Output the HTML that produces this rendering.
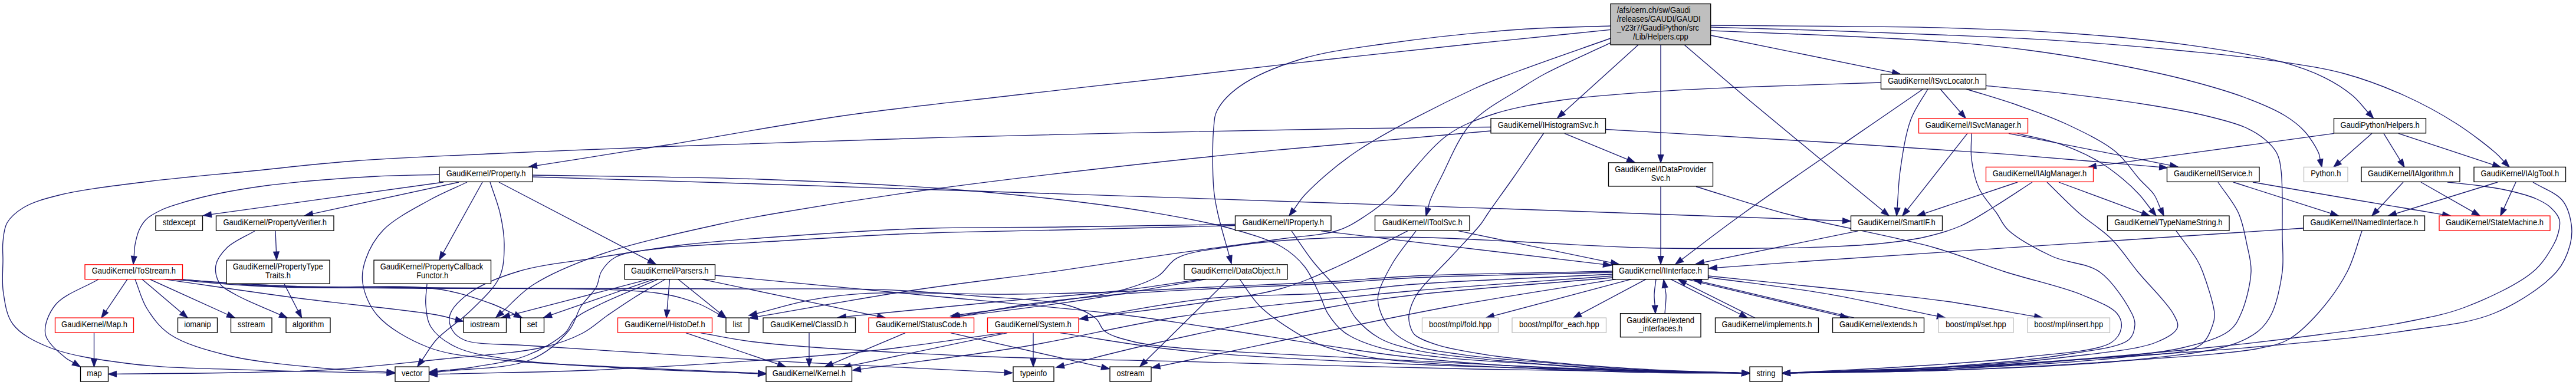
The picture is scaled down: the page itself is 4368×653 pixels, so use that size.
<!DOCTYPE html>
<html lang="en"><head><meta charset="utf-8"><title>Helpers.cpp include graph</title>
<style>html,body{margin:0;padding:0;background:#fff}svg{display:block}</style></head>
<body>
<svg width="4368" height="653" viewBox="0 0 4368 653">
<rect width="4368" height="653" fill="white"/>
<g fill="none" stroke="#191970" stroke-width="1.33">
<path d="M2731.0,50.4 C2654.0,58.3 2577.8,65.8 2500.0,74.0 C2420.5,82.3 2339.6,91.0 2259.0,100.0 C2177.9,109.0 2099.9,118.3 2015.0,128.0 C1922.3,138.6 1821.1,149.7 1724.0,161.0 C1626.7,172.3 1530.0,182.0 1432.0,196.0 C1332.0,210.3 1222.7,231.0 1130.0,246.0 C1050.9,258.8 983.4,269.3 910.1,280.9"/><polygon fill="#191970" points="909.4,276.3 897.0,283.0 910.9,285.5"/>
<path d="M2731.0,44.0 C2679.3,46.0 2632.4,45.9 2576.0,50.0 C2507.7,54.9 2416.6,64.4 2350.0,74.0 C2296.7,81.7 2250.3,86.7 2207.0,100.0 C2168.5,111.8 2127.1,128.8 2102.0,146.6 C2084.6,159.0 2070.9,173.6 2064.0,187.0 C2058.9,196.9 2059.3,203.6 2058.0,216.5 C2055.6,240.4 2055.8,293.2 2058.0,320.0 C2059.4,337.2 2061.6,346.2 2065.0,362.0 C2069.6,382.9 2078.0,410.1 2084.5,434.2"/><polygon fill="#191970" points="2080.0,435.4 2088.0,447.0 2089.0,432.9"/>
<path d="M2731.0,65.0 C2679.3,83.3 2618.3,104.1 2576.0,120.0 C2546.3,131.2 2531.3,135.8 2500.7,150.0 C2449.4,173.8 2351.7,222.1 2300.0,257.0 C2263.4,281.7 2230.9,311.1 2213.0,330.0 C2203.6,340.0 2200.3,346.9 2194.0,355.4"/><polygon fill="#191970" points="2190.2,352.6 2186.0,366.0 2197.7,358.2"/>
<path d="M2731.0,72.7 C2694.0,90.1 2647.8,110.1 2620.0,125.0 C2602.6,134.3 2594.6,139.6 2578.6,150.0 C2555.4,165.1 2517.4,183.7 2495.0,208.5 C2472.3,233.6 2456.6,275.6 2444.0,300.0 C2435.8,315.9 2428.6,330.2 2425.0,340.0 C2423.0,345.5 2422.6,348.8 2421.5,353.2"/><polygon fill="#191970" points="2416.9,351.9 2418.0,366.0 2426.0,354.4"/>
<path d="M2778.0,76.0 L2650.9,191.1"/><polygon fill="#191970" points="2647.7,187.6 2641.0,200.0 2654.0,194.5"/>
<path d="M2816.0,76.0 L2816.0,262.7"/><polygon fill="#191970" points="2811.3,262.7 2816.0,276.0 2820.7,262.7"/>
<path d="M2856.0,76.0 C2892.7,107.3 2922.6,133.5 2966.0,170.0 C3027.9,222.0 3117.2,295.0 3192.8,357.5"/><polygon fill="#191970" points="3189.8,361.1 3203.0,366.0 3195.7,353.9"/>
<path d="M2901.0,60.0 L3209.0,122.8"/><polygon fill="#191970" points="3208.0,127.4 3222.0,125.5 3209.9,118.3"/>
<path d="M2901.0,46.0 C2967.3,48.0 3033.6,49.8 3100.0,52.0 C3166.6,54.3 3233.1,56.6 3300.0,59.5 C3367.3,62.4 3435.2,65.1 3502.7,69.6 C3570.3,74.1 3641.6,80.3 3705.4,86.5 C3762.5,92.1 3819.1,97.4 3867.6,104.7 C3907.4,110.7 3940.6,115.4 3975.7,125.0 C4010.4,134.5 4044.9,147.6 4077.0,162.0 C4107.9,175.9 4138.1,192.4 4164.9,209.5 C4189.5,225.2 4218.8,248.0 4232.4,260.0 C4238.9,265.7 4241.3,269.3 4245.8,273.9"/><polygon fill="#191970" points="4242.4,277.2 4255.0,283.5 4249.1,270.7"/>
<path d="M2901.0,43.0 C2967.3,43.5 3033.6,43.8 3100.0,44.5 C3166.6,45.2 3233.1,45.4 3300.0,47.3 C3367.4,49.2 3435.2,51.3 3502.7,56.0 C3570.3,60.7 3641.8,66.9 3705.4,75.7 C3762.6,83.6 3824.3,93.0 3867.6,104.7 C3897.6,112.8 3920.5,121.2 3942.0,131.8 C3960.0,140.7 3976.1,151.2 3989.0,162.0 C3999.8,171.0 4006.7,181.1 4015.5,190.7"/><polygon fill="#191970" points="4012.1,193.9 4024.5,200.5 4018.9,187.6"/>
<path d="M2901.0,52.0 C2967.3,54.7 3033.6,56.8 3100.0,60.0 C3166.6,63.2 3239.9,66.3 3300.0,71.0 C3349.5,74.8 3390.1,78.7 3435.0,84.5 C3480.1,90.3 3525.1,97.6 3570.0,106.0 C3615.2,114.4 3663.7,124.3 3705.4,135.0 C3741.8,144.4 3776.8,154.3 3806.8,165.5 C3831.9,174.9 3856.2,184.9 3874.3,196.0 C3888.1,204.5 3898.4,212.4 3908.0,223.0 C3917.6,233.7 3928.1,251.2 3931.8,260.0 C3933.6,264.4 3933.4,267.0 3934.1,270.5"/><polygon fill="#191970" points="3929.6,271.5 3937.0,283.5 3938.7,269.5"/>
<path d="M3261.0,151.0 C3159.3,221.3 3030.7,308.3 2956.0,362.0 C2911.7,393.8 2886.4,414.0 2851.7,440.0"/><polygon fill="#191970" points="2848.9,436.3 2841.0,448.0 2854.4,443.8"/>
<path d="M3269.0,151.0 C3259.3,168.3 3247.5,182.8 3240.0,203.0 C3230.8,227.7 3225.8,263.3 3222.0,290.0 C3218.8,312.5 3218.7,331.8 3217.0,352.7"/><polygon fill="#191970" points="3212.4,352.4 3216.0,366.0 3221.7,353.1"/>
<path d="M3290.0,151.0 L3324.3,190.5"/><polygon fill="#191970" points="3320.8,193.5 3333.0,200.5 3327.8,187.4"/>
<path d="M3334.0,151.0 C3362.7,160.0 3391.7,168.1 3420.0,178.0 C3448.1,187.8 3475.7,197.2 3503.0,210.0 C3531.4,223.3 3565.2,239.3 3587.0,257.0 C3604.5,271.2 3615.5,290.3 3627.5,303.5 C3636.7,313.7 3646.3,320.9 3652.5,330.0 C3657.7,337.8 3659.8,345.9 3663.5,353.9"/><polygon fill="#191970" points="3659.2,355.9 3669.0,366.0 3667.7,352.0"/>
<path d="M3367.6,145.3 C3412.6,149.8 3457.7,153.5 3502.7,158.8 C3547.8,164.1 3596.1,170.3 3637.8,177.0 C3674.0,182.8 3708.8,188.7 3739.0,196.0 C3764.0,202.0 3788.5,207.9 3806.8,216.0 C3820.4,222.0 3831.2,228.6 3840.5,236.5 C3848.8,243.5 3856.2,251.1 3860.8,260.0 C3865.4,268.9 3866.3,276.7 3868.0,290.0 C3871.2,315.0 3869.7,368.7 3870.0,400.0 C3870.2,423.3 3872.6,440.1 3870.0,461.0 C3867.1,483.9 3860.6,514.2 3852.0,532.0 C3845.9,544.6 3840.1,552.6 3830.0,561.0 C3817.5,571.4 3802.6,578.9 3780.0,586.0 C3739.3,598.8 3667.8,605.3 3600.0,612.0 C3512.9,620.6 3396.9,624.5 3300.0,628.0 C3209.0,631.2 3123.5,631.2 3035.3,632.8"/><polygon fill="#191970" points="3035.2,628.1 3022.0,633.0 3035.4,637.4"/>
<path d="M2722.5,219.5 C2840.3,226.3 2960.7,232.9 3076.0,240.0 C3186.4,246.8 3297.8,253.7 3400.0,261.4 C3491.9,268.3 3574.5,276.1 3661.7,283.4"/><polygon fill="#191970" points="3661.4,288.0 3675.0,284.5 3662.1,278.7"/>
<path d="M2653.0,226.3 L2759.7,270.4"/><polygon fill="#191970" points="2757.9,274.7 2772.0,275.5 2761.5,266.1"/>
<path d="M3336.0,226.3 L3234.2,355.6"/><polygon fill="#191970" points="3230.6,352.7 3226.0,366.0 3237.9,358.4"/>
<path d="M3343.0,226.3 C3343.0,240.9 3341.1,255.1 3343.0,270.0 C3345.1,286.2 3348.8,304.7 3356.0,320.0 C3363.2,335.3 3377.2,349.4 3386.0,362.0 C3393.1,372.2 3395.1,380.7 3405.0,390.0 C3420.9,405.0 3453.9,423.1 3480.0,435.0 C3505.6,446.7 3537.7,445.3 3560.0,461.0 C3583.0,477.2 3606.7,515.2 3615.0,532.0 C3618.9,539.8 3620.4,544.3 3620.0,551.0 C3619.5,558.8 3618.0,569.1 3610.0,576.0 C3593.9,589.9 3546.1,594.0 3505.0,601.0 C3448.3,610.6 3372.8,616.8 3300.0,622.0 C3217.5,627.9 3123.5,629.0 3035.3,632.5"/><polygon fill="#191970" points="3035.1,627.8 3022.0,633.0 3035.5,637.1"/>
<path d="M3406.0,226.3 L3680.0,280.4"/><polygon fill="#191970" points="3679.0,285.0 3693.0,283.0 3680.9,275.8"/>
<path d="M3421.0,226.3 C3445.2,232.3 3470.6,236.4 3493.5,244.3 C3515.5,251.9 3537.5,261.7 3556.0,272.3 C3572.3,281.7 3586.9,293.1 3599.5,303.5 C3610.2,312.3 3619.2,320.9 3627.5,330.0 C3635.1,338.3 3641.0,347.0 3647.7,355.6"/><polygon fill="#191970" points="3644.1,358.5 3656.0,366.0 3651.4,352.7"/>
<path d="M3957.5,226.3 L3554.2,281.7"/><polygon fill="#191970" points="3553.5,277.1 3541.0,283.5 3554.8,286.3"/>
<path d="M4022.0,226.3 L3967.0,274.7"/><polygon fill="#191970" points="3963.9,271.2 3957.0,283.5 3970.1,278.2"/>
<path d="M4042.0,226.3 L4070.1,272.2"/><polygon fill="#191970" points="4066.1,274.6 4077.0,283.5 4074.0,269.7"/>
<path d="M4067.0,226.3 L4227.4,279.3"/><polygon fill="#191970" points="4225.9,283.8 4240.0,283.5 4228.8,274.9"/>
<path d="M2816.0,316.5 L2816.0,434.7"/><polygon fill="#191970" points="2811.3,434.7 2816.0,448.0 2820.7,434.7"/>
<path d="M2876.0,316.5 C2926.0,331.7 2969.2,346.9 3026.0,362.0 C3099.3,381.5 3211.4,400.5 3280.0,420.0 C3327.8,433.6 3359.1,447.9 3400.0,461.0 C3442.3,474.6 3495.5,485.8 3530.0,500.0 C3554.4,510.1 3580.1,519.8 3590.0,532.0 C3596.0,539.4 3598.2,548.2 3597.0,556.0 C3595.6,564.6 3590.8,574.1 3580.0,581.0 C3555.8,596.5 3483.7,599.4 3430.0,606.0 C3368.3,613.6 3296.3,617.6 3230.0,622.0 C3164.7,626.3 3100.2,628.9 3035.3,632.3"/><polygon fill="#191970" points="3035.0,627.6 3022.0,633.0 3035.5,637.0"/>
<path d="M3421.0,309.0 L3263.6,361.8"/><polygon fill="#191970" points="3262.1,357.3 3251.0,366.0 3265.1,366.2"/>
<path d="M3471.0,309.0 C3489.3,326.7 3507.4,345.7 3526.0,362.0 C3543.7,377.5 3563.6,388.7 3580.0,405.0 C3596.7,421.6 3608.8,441.3 3625.0,461.0 C3643.4,483.4 3675.2,513.8 3685.0,532.0 C3690.1,541.5 3694.6,548.8 3692.0,556.0 C3688.5,565.7 3672.6,574.0 3655.0,581.0 C3621.9,594.1 3555.1,599.2 3500.0,606.0 C3437.7,613.7 3371.4,618.7 3300.0,623.0 C3218.0,628.0 3123.5,629.3 3035.3,632.5"/><polygon fill="#191970" points="3035.1,627.9 3022.0,633.0 3035.5,637.2"/>
<path d="M3491.0,309.0 L3632.5,361.4"/><polygon fill="#191970" points="3630.9,365.8 3645.0,366.0 3634.1,357.0"/>
<path d="M3761.0,309.0 C3772.7,326.7 3787.8,343.6 3796.0,362.0 C3803.6,379.1 3806.4,397.9 3810.0,415.0 C3813.3,430.8 3817.7,444.1 3817.0,461.0 C3816.1,482.2 3808.0,514.1 3800.0,532.0 C3794.5,544.4 3790.8,552.7 3780.0,561.0 C3763.3,573.9 3733.2,582.3 3700.0,590.0 C3648.9,601.9 3566.7,606.0 3500.0,612.0 C3433.4,618.0 3371.4,622.6 3300.0,626.0 C3218.0,629.9 3123.5,630.4 3035.3,632.7"/><polygon fill="#191970" points="3035.2,628.0 3022.0,633.0 3035.4,637.3"/>
<path d="M3787.0,309.0 L3952.3,361.9"/><polygon fill="#191970" points="3950.9,366.4 3965.0,366.0 3953.8,357.5"/>
<path d="M3820.0,309.0 C3880.0,319.3 3943.6,330.4 4000.0,340.0 C4050.1,348.5 4094.6,355.9 4141.9,363.8"/><polygon fill="#191970" points="4141.1,368.4 4155.0,366.0 4142.7,359.2"/>
<path d="M4075.0,309.0 L4031.1,356.3"/><polygon fill="#191970" points="4027.6,353.1 4022.0,366.0 4034.5,359.4"/>
<path d="M4105.0,309.0 L4193.4,359.4"/><polygon fill="#191970" points="4191.1,363.5 4205.0,366.0 4195.8,355.4"/>
<path d="M4150.0,309.0 C4168.3,311.0 4187.0,312.5 4205.0,315.0 C4222.6,317.5 4240.6,320.1 4257.0,324.0 C4272.1,327.6 4287.9,331.6 4300.0,337.0 C4309.8,341.3 4318.2,345.7 4325.0,352.0 C4331.4,357.9 4338.0,365.5 4340.0,373.0 C4341.9,379.9 4339.7,388.0 4338.0,395.0 C4336.3,402.0 4334.4,407.3 4330.0,415.0 C4322.9,427.6 4312.2,446.5 4295.0,461.0 C4269.2,482.8 4217.8,506.6 4180.0,521.0 C4146.3,533.8 4116.9,538.7 4080.0,546.0 C4035.2,554.9 3983.6,561.0 3930.0,568.0 C3868.2,576.1 3805.0,583.6 3730.0,591.0 C3633.8,600.5 3512.8,611.1 3400.0,618.0 C3281.5,625.2 3156.9,627.6 3035.3,632.5"/><polygon fill="#191970" points="3035.1,627.8 3022.0,633.0 3035.5,637.1"/>
<path d="M4235.0,309.0 L4062.7,362.1"/><polygon fill="#191970" points="4061.3,357.6 4050.0,366.0 4064.1,366.5"/>
<path d="M4266.0,309.0 L4245.5,353.9"/><polygon fill="#191970" points="4241.3,352.0 4240.0,366.0 4249.8,355.8"/>
<path d="M4295.0,309.0 C4311.7,319.3 4334.2,326.8 4345.0,340.0 C4354.2,351.3 4358.0,366.9 4360.0,380.0 C4361.8,391.9 4361.2,402.9 4358.0,415.0 C4354.1,429.7 4348.4,445.8 4335.0,461.0 C4314.0,484.8 4270.0,514.4 4230.0,531.0 C4186.0,549.2 4136.6,552.3 4080.0,561.0 C4007.5,572.1 3913.4,580.5 3830.0,588.0 C3746.7,595.5 3665.7,600.0 3580.0,606.0 C3489.3,612.3 3392.1,620.6 3300.0,625.0 C3210.6,629.3 3123.5,630.1 3035.3,632.6"/><polygon fill="#191970" points="3035.2,627.9 3022.0,633.0 3035.4,637.3"/>
<path d="M3151.0,391.7 L2889.0,444.9"/><polygon fill="#191970" points="2888.1,440.3 2876.0,447.5 2890.0,449.4"/>
<path d="M3690.0,391.7 C3701.7,407.8 3717.2,426.9 3725.0,440.0 C3729.9,448.2 3731.5,451.7 3735.0,461.0 C3741.2,477.5 3754.0,515.8 3755.0,532.0 C3755.5,540.3 3754.6,544.0 3752.0,551.0 C3748.2,561.3 3743.4,577.2 3730.0,586.0 C3706.1,601.7 3652.4,600.2 3600.0,606.0 C3520.8,614.7 3396.9,621.6 3300.0,626.0 C3209.0,630.2 3123.5,630.4 3035.3,632.7"/><polygon fill="#191970" points="3035.2,628.0 3022.0,633.0 3035.4,637.3"/>
<path d="M3906.0,387.0 C3630.7,405.3 3251.4,430.2 3080.0,442.0 C3002.5,447.3 2967.5,450.0 2911.3,454.1"/><polygon fill="#191970" points="2910.9,449.4 2898.0,455.0 2911.6,458.7"/>
<path d="M4005.0,391.7 C3996.7,414.8 3991.7,438.5 3980.0,461.0 C3967.3,485.4 3947.9,512.0 3930.0,532.0 C3914.3,549.5 3897.8,566.1 3880.0,576.0 C3864.2,584.7 3853.0,586.5 3830.0,591.0 C3781.5,600.4 3681.8,606.1 3600.0,612.0 C3506.7,618.7 3396.9,624.5 3300.0,628.0 C3209.0,631.2 3123.5,631.2 3035.3,632.8"/><polygon fill="#191970" points="3035.2,628.1 3022.0,633.0 3035.4,637.4"/>
<path d="M2808.0,473.7 C2807.0,482.5 2805.2,492.0 2805.0,500.0 C2804.8,506.6 2805.8,512.2 2806.2,518.2"/><polygon fill="#191970" points="2801.5,518.5 2807.0,531.5 2810.8,517.9"/>
<path d="M2823.0,532.0 C2823.7,521.3 2825.4,508.2 2825.0,500.0 C2824.8,494.9 2823.7,491.8 2823.1,487.6"/><polygon fill="#191970" points="2827.7,486.9 2821.0,474.5 2818.4,488.4"/>
<path d="M2833.0,473.7 L2951.1,533.0"/><polygon fill="#191970" points="2949.0,537.2 2963.0,539.0 2953.2,528.9"/>
<path d="M2976.0,539.3 L2857.9,480.4"/><polygon fill="#191970" points="2860.0,476.3 2846.0,474.5 2855.8,484.6"/>
<path d="M2860.0,473.7 L3121.1,535.9"/><polygon fill="#191970" points="3120.0,540.5 3134.0,539.0 3122.1,531.4"/>
<path d="M3144.0,539.1 L2884.9,477.6"/><polygon fill="#191970" points="2886.0,473.0 2872.0,474.5 2883.9,482.1"/>
<path d="M2896.5,470.5 C2961.7,479.5 3027.2,486.4 3092.0,497.4 C3156.7,508.3 3220.6,523.3 3285.0,536.2"/><polygon fill="#191970" points="3284.0,540.8 3298.0,538.8 3285.9,531.6"/>
<path d="M2896.5,468.0 C2961.7,474.7 3025.8,481.0 3092.0,488.0 C3160.3,495.3 3236.5,502.0 3300.0,511.0 C3354.2,518.6 3399.9,528.2 3449.9,536.7"/><polygon fill="#191970" points="3449.1,541.4 3463.0,539.0 3450.7,532.1"/>
<path d="M2791.0,473.7 L2679.7,532.8"/><polygon fill="#191970" points="2677.6,528.6 2668.0,539.0 2681.9,536.9"/>
<path d="M2766.0,473.7 L2532.9,535.6"/><polygon fill="#191970" points="2531.7,531.1 2520.0,539.0 2534.1,540.1"/>
<path d="M745.0,296.0 C710.0,297.0 674.9,297.3 640.0,299.0 C605.2,300.7 569.0,303.2 536.0,306.0 C505.9,308.6 477.9,311.2 450.0,315.0 C423.3,318.6 395.9,323.1 372.0,328.0 C351.4,332.2 332.3,336.9 315.0,342.0 C300.1,346.4 285.8,350.4 274.0,356.0 C264.1,360.7 254.5,365.7 248.0,372.0 C242.5,377.3 239.1,383.2 236.0,390.0 C232.6,397.4 230.5,407.1 229.0,415.0 C227.7,421.9 227.8,428.2 227.2,434.8"/><polygon fill="#191970" points="222.6,434.3 226.0,448.0 231.9,435.2"/>
<path d="M752.0,309.0 L358.2,363.7"/><polygon fill="#191970" points="357.5,359.0 345.0,365.5 358.8,368.3"/>
<path d="M778.0,309.0 L530.0,362.7"/><polygon fill="#191970" points="529.0,358.1 517.0,365.5 531.0,367.3"/>
<path d="M792.0,309.0 C770.3,319.3 749.2,327.6 727.0,340.0 C702.0,354.0 668.4,371.0 650.0,390.0 C635.4,405.2 625.6,423.7 620.0,440.0 C615.3,453.6 612.9,465.9 615.0,480.0 C617.6,497.2 625.7,518.6 640.0,535.0 C658.6,556.3 693.7,576.5 726.0,589.0 C761.3,602.6 800.5,604.7 845.0,610.0 C900.8,616.7 967.3,618.4 1035.0,622.0 C1112.8,626.1 1202.1,629.3 1285.7,632.9"/><polygon fill="#191970" points="1285.5,637.6 1299.0,633.5 1285.9,628.3"/>
<path d="M818.0,309.0 L751.5,428.9"/><polygon fill="#191970" points="747.4,426.6 745.0,440.5 755.5,431.1"/>
<path d="M831.0,309.0 C836.7,326.7 844.0,344.2 848.0,362.0 C851.9,379.5 855.1,397.2 855.0,415.0 C854.9,433.2 854.9,452.6 847.0,470.0 C837.8,490.2 815.7,509.5 798.0,527.0 C780.4,544.5 755.5,559.3 741.0,575.0 C729.9,587.0 724.1,598.8 715.7,610.7"/><polygon fill="#191970" points="711.9,608.0 708.0,621.5 719.5,613.4"/>
<path d="M846.0,309.0 L1100.2,441.8"/><polygon fill="#191970" points="1098.0,446.0 1112.0,448.0 1102.4,437.7"/>
<path d="M903.0,300.0 C1031.3,304.0 1122.1,306.6 1288.0,312.0 C1591.5,321.8 2236.9,343.3 2576.0,355.0 C2797.3,362.6 2941.8,368.0 3124.7,374.5"/><polygon fill="#191970" points="3124.5,379.2 3138.0,375.0 3124.9,369.9"/>
<path d="M903.0,297.0 C1031.3,299.3 1166.4,299.8 1288.0,304.0 C1397.5,307.8 1507.6,313.2 1600.0,320.0 C1674.1,325.4 1739.3,332.0 1800.0,339.0 C1850.9,344.9 1893.4,350.2 1940.0,358.0 C1987.0,365.9 2039.2,374.5 2081.0,386.0 C2115.6,395.5 2150.7,405.4 2174.0,419.0 C2190.6,428.7 2201.5,438.9 2212.0,452.0 C2222.9,465.7 2230.7,485.5 2237.7,500.0 C2243.3,511.6 2245.2,521.7 2251.6,531.8 C2258.7,543.0 2267.2,554.6 2279.5,563.6 C2294.7,574.7 2316.2,582.7 2339.0,589.4 C2367.5,597.7 2401.3,601.0 2438.4,605.3 C2485.0,610.8 2540.9,613.3 2597.0,617.2 C2660.5,621.6 2737.0,627.8 2800.0,630.3 C2854.8,632.5 2902.5,632.0 2953.7,632.8"/><polygon fill="#191970" points="2953.6,637.5 2967.0,633.0 2953.8,628.1"/>
<path d="M432.0,391.7 C416.3,401.1 396.3,408.9 385.0,420.0 C375.9,428.9 367.9,439.6 366.0,450.0 C364.2,459.7 366.7,471.8 372.0,480.0 C377.6,488.7 388.0,493.1 400.0,500.0 C418.6,510.7 449.9,522.5 474.9,533.8"/><polygon fill="#191970" points="473.0,538.1 487.0,539.3 476.8,529.6"/>
<path d="M467.0,391.7 L468.5,427.2"/><polygon fill="#191970" points="463.8,427.4 469.0,440.5 473.1,427.0"/>
<path d="M482.0,481.5 L505.4,527.2"/><polygon fill="#191970" points="501.3,529.3 511.5,539.0 509.6,525.0"/>
<path d="M724.0,481.5 C723.3,493.3 720.9,505.0 722.0,517.0 C723.1,529.5 723.8,543.8 731.0,555.0 C739.5,568.3 755.6,580.3 774.0,589.0 C798.5,600.6 832.7,604.6 869.0,610.0 C916.5,617.1 973.9,619.3 1035.0,623.0 C1110.0,627.6 1202.1,630.3 1285.7,633.9"/><polygon fill="#191970" points="1285.5,638.6 1299.0,634.5 1285.9,629.3"/>
<path d="M167.0,473.7 C142.7,488.1 108.7,498.8 94.0,517.0 C82.4,531.3 74.2,552.1 77.0,567.0 C79.8,581.7 100.6,597.9 110.0,606.0 C115.4,610.7 119.8,612.0 124.7,615.0"/><polygon fill="#191970" points="122.2,619.0 136.0,622.0 127.1,611.1"/>
<path d="M216.0,473.7 L179.4,528.0"/><polygon fill="#191970" points="175.6,525.4 172.0,539.0 183.3,530.6"/>
<path d="M229.0,473.7 C235.7,490.1 239.6,507.8 249.0,523.0 C258.9,539.0 270.0,554.8 288.0,567.0 C312.1,583.4 349.2,593.7 387.0,603.0 C434.7,614.7 504.1,620.3 553.0,625.0 C591.4,628.7 621.8,629.1 656.2,631.2"/><polygon fill="#191970" points="655.9,635.9 669.5,632.0 656.5,626.5"/>
<path d="M241.0,473.7 L307.9,530.4"/><polygon fill="#191970" points="304.8,534.0 318.0,539.0 310.9,526.8"/>
<path d="M254.0,473.7 L385.9,533.5"/><polygon fill="#191970" points="384.0,537.8 398.0,539.0 387.8,529.3"/>
<path d="M275.0,473.1 C350.0,483.7 423.7,495.0 500.0,505.0 C578.7,515.3 697.0,526.2 740.0,534.0 C756.0,536.9 761.7,539.2 772.6,541.9"/><polygon fill="#191970" points="771.5,546.4 785.5,545.0 773.7,537.3"/>
<path d="M285.0,473.1 C323.3,476.4 363.0,480.6 400.0,483.0 C434.5,485.3 459.5,486.4 500.0,487.5 C562.8,489.2 679.0,481.6 740.0,490.0 C778.6,495.3 808.7,506.3 833.0,515.0 C849.4,520.9 859.6,527.2 872.9,533.3"/><polygon fill="#191970" points="871.0,537.5 885.0,538.8 874.9,529.0"/>
<path d="M300.0,473.1 C333.3,475.9 366.6,479.2 400.0,481.5 C433.3,483.8 460.9,485.7 500.0,487.0 C555.2,488.8 621.3,487.8 700.0,489.0 C813.2,490.7 1033.9,486.1 1114.0,497.0 C1147.4,501.6 1165.0,507.8 1184.0,515.0 C1198.1,520.3 1207.4,527.0 1219.2,533.0"/><polygon fill="#191970" points="1217.0,537.1 1231.0,539.0 1221.3,528.8"/>
<path d="M295.0,473.1 C330.0,475.6 365.4,478.4 400.0,480.5 C433.7,482.5 460.9,484.3 500.0,485.5 C555.2,487.2 633.3,486.9 700.0,487.5 C766.7,488.1 824.1,488.6 900.0,489.0 C1000.4,489.5 1143.2,489.5 1250.0,490.0 C1340.0,490.4 1425.7,488.7 1499.0,491.4 C1557.1,493.5 1603.0,497.6 1655.0,502.0 C1707.0,506.4 1774.7,508.0 1811.0,518.0 C1831.9,523.8 1847.3,531.0 1858.0,540.0 C1865.7,546.5 1865.5,555.9 1873.5,562.0 C1884.7,570.5 1905.3,575.5 1924.0,580.0 C1946.1,585.4 1964.9,586.8 1998.0,590.0 C2064.6,596.4 2194.2,601.4 2300.0,607.0 C2417.1,613.1 2554.8,620.6 2670.0,625.0 C2770.8,628.8 2859.1,630.1 2953.7,632.6"/><polygon fill="#191970" points="2953.6,637.3 2967.0,633.0 2953.8,628.0"/>
<path d="M159.5,564.7 L159.5,608.7"/><polygon fill="#191970" points="154.8,608.7 159.5,622.0 164.2,608.7"/>
<path d="M1100.0,473.7 L863.9,535.2"/><polygon fill="#191970" points="862.7,530.6 851.0,538.5 865.0,539.7"/>
<path d="M1109.0,473.7 L934.6,534.1"/><polygon fill="#191970" points="933.0,529.7 922.0,538.5 936.1,538.6"/>
<path d="M1116.0,473.7 C1084.0,487.5 1045.8,502.3 1020.0,515.0 C1001.9,523.9 985.7,530.2 975.0,540.0 C966.8,547.5 966.8,556.8 958.0,565.0 C944.1,578.0 917.5,593.5 893.0,603.0 C865.5,613.7 827.6,618.5 800.0,623.0 C778.3,626.5 760.8,627.4 741.2,629.5"/><polygon fill="#191970" points="740.7,624.9 728.0,631.0 741.7,634.2"/>
<path d="M1128.0,473.7 C1110.3,484.1 1091.8,494.4 1075.0,505.0 C1059.2,514.9 1044.7,524.9 1030.0,535.0 C1015.7,544.9 1004.3,556.5 988.0,565.0 C968.8,575.0 948.9,582.5 921.0,589.0 C877.6,599.2 808.5,602.8 750.0,609.0 C688.4,615.5 620.7,623.2 560.0,627.0 C504.4,630.5 456.5,630.8 400.0,632.0 C336.4,633.4 264.9,633.6 197.3,634.3"/><polygon fill="#191970" points="197.2,629.7 184.0,634.5 197.4,639.0"/>
<path d="M1135.5,473.7 L1131.1,525.7"/><polygon fill="#191970" points="1126.5,525.4 1130.0,539.0 1135.8,526.1"/>
<path d="M1150.0,473.7 L1220.6,530.7"/><polygon fill="#191970" points="1217.7,534.3 1231.0,539.0 1223.6,527.0"/>
<path d="M1190.0,473.7 L1488.0,536.3"/><polygon fill="#191970" points="1487.0,540.8 1501.0,539.0 1488.9,531.7"/>
<path d="M1212.5,467.0 C1325.0,477.7 1436.5,488.0 1550.0,499.0 C1665.6,510.2 1807.8,522.4 1900.0,533.5 C1960.5,540.8 1989.6,546.2 2050.0,555.0 C2142.3,568.5 2290.7,595.1 2400.0,607.0 C2495.6,617.5 2578.8,621.7 2670.0,626.0 C2763.3,630.4 2859.1,630.5 2953.7,632.7"/><polygon fill="#191970" points="2953.6,637.4 2967.0,633.0 2953.8,628.0"/>
<path d="M1163.0,564.7 L1319.4,617.7"/><polygon fill="#191970" points="1317.9,622.2 1332.0,622.0 1320.9,613.3"/>
<path d="M1188.0,564.7 C1218.7,569.8 1239.4,575.3 1280.0,580.0 C1358.2,589.1 1507.5,597.5 1625.0,603.0 C1747.3,608.7 1866.0,609.5 2000.0,613.0 C2154.7,617.1 2337.4,622.7 2500.0,626.0 C2654.9,629.2 2802.5,630.5 2953.7,632.8"/><polygon fill="#191970" points="2953.6,637.5 2967.0,633.0 2953.8,628.1"/>
<path d="M1372.0,564.7 L1372.0,608.7"/><polygon fill="#191970" points="1367.3,608.7 1372.0,622.0 1376.7,608.7"/>
<path d="M1535.0,564.7 L1411.3,616.8"/><polygon fill="#191970" points="1409.4,612.5 1399.0,622.0 1413.1,621.1"/>
<path d="M1612.0,564.7 L1868.0,622.6"/><polygon fill="#191970" points="1867.0,627.1 1881.0,625.5 1869.1,618.0"/>
<path d="M1708.0,564.7 L1442.0,620.3"/><polygon fill="#191970" points="1441.1,615.7 1429.0,623.0 1443.0,624.9"/>
<path d="M1752.0,564.7 L1752.0,608.7"/><polygon fill="#191970" points="1747.3,608.7 1752.0,622.0 1756.7,608.7"/>
<path d="M1798.0,564.7 C1865.3,574.5 1921.1,585.9 2000.0,594.0 C2110.6,605.3 2255.8,611.8 2400.0,618.0 C2569.5,625.3 2769.1,627.8 2953.7,632.6"/><polygon fill="#191970" points="2953.6,637.3 2967.0,633.0 2953.8,628.0"/>
<path d="M1701.0,564.7 C1629.7,574.5 1557.8,586.1 1487.0,594.0 C1417.5,601.7 1354.2,606.3 1280.0,611.6 C1193.7,617.8 1091.5,624.1 1000.0,628.0 C912.1,631.7 827.5,632.4 741.3,634.7"/><polygon fill="#191970" points="741.2,630.0 728.0,635.0 741.4,639.3"/>
<path d="M2240.0,391.7 L2718.8,448.4"/><polygon fill="#191970" points="2718.2,453.1 2732.0,450.0 2719.3,443.8"/>
<path d="M2190.0,391.7 C2202.0,408.8 2212.6,425.8 2226.0,443.0 C2240.8,461.9 2262.6,482.2 2275.5,500.0 C2285.6,513.9 2288.9,527.8 2299.0,539.7 C2309.8,552.4 2323.4,564.7 2339.0,573.5 C2356.1,583.1 2375.0,587.9 2398.6,593.4 C2431.2,601.0 2469.5,604.4 2517.8,609.3 C2591.8,616.8 2720.1,625.3 2800.0,629.0 C2858.9,631.8 2902.5,631.5 2953.7,632.7"/><polygon fill="#191970" points="2953.6,637.4 2967.0,633.0 2953.8,628.0"/>
<path d="M2094.5,380.5 C1996.3,382.0 1894.1,383.7 1800.0,385.0 C1713.3,386.2 1633.3,385.0 1550.0,388.0 C1466.6,391.0 1371.2,397.8 1300.0,403.0 C1246.9,406.9 1207.4,409.5 1161.0,415.0 C1114.1,420.5 1066.9,428.5 1020.0,436.0 C973.2,443.5 920.1,447.9 880.0,460.0 C847.8,469.7 816.5,482.1 796.0,497.0 C780.9,507.9 766.6,521.9 763.0,534.0 C760.4,542.8 762.9,552.9 767.0,560.0 C771.2,567.2 777.4,572.7 788.0,577.0 C808.9,585.4 852.8,583.0 893.0,586.0 C947.0,590.0 1016.2,593.8 1083.0,598.0 C1157.6,602.7 1231.5,607.7 1320.0,612.6 C1432.5,618.9 1575.5,625.4 1703.2,631.8"/><polygon fill="#191970" points="1703.0,636.5 1716.5,632.5 1703.5,627.2"/>
<path d="M2094.5,382.5 C1996.3,385.0 1894.1,387.7 1800.0,390.0 C1713.3,392.1 1633.3,392.7 1550.0,396.0 C1466.6,399.3 1377.2,405.3 1300.0,410.0 C1233.4,414.0 1161.0,415.8 1114.0,422.0 C1084.9,425.8 1060.4,427.2 1044.0,436.0 C1032.7,442.0 1025.5,451.0 1020.0,460.0 C1014.9,468.2 1015.9,478.0 1011.0,487.0 C1005.1,498.0 992.6,508.1 985.0,520.0 C977.2,532.3 975.6,547.1 965.0,560.0 C950.6,577.5 928.4,598.2 900.0,610.0 C860.3,626.5 794.1,624.2 741.2,631.2"/><polygon fill="#191970" points="740.6,626.6 728.0,633.0 741.8,635.9"/>
<path d="M2473.0,391.7 L2732.0,445.3"/><polygon fill="#191970" points="2731.0,449.9 2745.0,448.0 2732.9,440.7"/>
<path d="M2401.0,391.7 C2387.7,410.1 2371.9,428.2 2361.0,447.0 C2350.9,464.4 2339.5,485.6 2337.0,500.0 C2335.4,509.3 2336.4,515.4 2339.0,523.8 C2342.4,534.9 2349.6,549.6 2359.0,559.6 C2369.1,570.4 2382.4,578.8 2398.6,585.4 C2419.9,594.1 2448.7,596.9 2478.0,601.3 C2513.6,606.6 2552.0,609.3 2597.0,613.2 C2655.7,618.3 2737.0,624.8 2800.0,628.0 C2854.8,630.8 2902.5,631.1 2953.7,632.6"/><polygon fill="#191970" points="2953.6,637.3 2967.0,633.0 2953.8,627.9"/>
<path d="M2387.0,391.7 C2347.3,411.8 2305.7,435.1 2268.0,452.0 C2235.2,466.7 2207.2,479.5 2174.0,489.0 C2138.8,499.1 2105.6,503.0 2062.0,510.0 C2001.5,519.7 1916.8,529.5 1844.2,539.2"/><polygon fill="#191970" points="1843.6,534.6 1831.0,541.0 1844.8,543.9"/>
<path d="M2036.0,473.7 C1990.7,480.1 1949.8,487.2 1900.0,493.0 C1839.8,500.0 1771.4,504.3 1700.0,511.0 C1617.7,518.8 1522.8,528.5 1434.2,537.2"/><polygon fill="#191970" points="1433.8,532.5 1421.0,538.5 1434.7,541.8"/>
<path d="M2045.0,473.7 C1977.3,485.1 1910.7,497.6 1842.0,508.0 C1771.5,518.7 1698.8,527.2 1627.2,536.7"/><polygon fill="#191970" points="1626.6,532.1 1614.0,538.5 1627.8,541.4"/>
<path d="M2083.0,473.7 L1942.5,612.2"/><polygon fill="#191970" points="1939.2,608.8 1933.0,621.5 1945.8,615.5"/>
<path d="M2102.0,473.7 C2113.7,489.1 2122.3,505.6 2137.0,520.0 C2154.0,536.6 2181.0,554.1 2200.0,565.6 C2214.4,574.3 2223.8,579.5 2239.7,585.4 C2261.3,593.4 2289.7,600.2 2319.0,605.3 C2354.5,611.5 2395.7,614.0 2438.4,617.2 C2487.5,620.9 2540.9,622.7 2597.0,625.0 C2660.5,627.7 2737.0,630.7 2800.0,632.0 C2854.8,633.1 2902.5,632.6 2953.7,632.9"/><polygon fill="#191970" points="2953.7,637.6 2967.0,633.0 2953.7,628.3"/>
<path d="M3446.0,309.0 C3424.3,323.0 3402.0,338.2 3381.0,351.0 C3361.8,362.7 3344.6,374.5 3325.0,383.0 C3305.5,391.5 3285.2,397.1 3264.0,402.0 C3241.7,407.1 3219.1,409.8 3194.0,412.5 C3165.0,415.6 3137.2,417.1 3100.0,418.6 C3045.8,420.8 2958.7,421.4 2900.0,421.5 C2853.8,421.6 2822.2,421.4 2776.0,420.0 C2717.2,418.2 2640.5,413.0 2576.0,410.0 C2515.5,407.2 2458.9,403.3 2400.0,402.5 C2340.6,401.6 2276.9,401.8 2221.0,405.0 C2171.4,407.8 2121.7,412.5 2081.0,419.0 C2049.0,424.1 2016.5,426.7 1996.0,437.6 C1981.4,445.4 1977.5,459.4 1964.0,468.0 C1947.1,478.7 1924.9,485.8 1900.0,492.6 C1867.4,501.5 1825.7,505.6 1784.0,512.0 C1735.3,519.5 1678.1,526.8 1625.2,534.2"/><polygon fill="#191970" points="1624.5,529.5 1612.0,536.0 1625.8,538.8"/>
<path d="M3189.5,140.0 C3109.7,142.7 3020.5,145.0 2950.0,148.0 C2894.2,150.4 2850.0,152.2 2800.0,155.8 C2750.0,159.4 2696.6,162.7 2650.0,169.5 C2608.7,175.6 2568.3,182.0 2534.0,193.0 C2504.8,202.4 2479.9,211.3 2456.0,228.0 C2430.1,246.1 2403.2,280.9 2386.0,300.0 C2375.3,311.9 2371.3,320.0 2361.0,330.0 C2348.3,342.4 2330.1,356.6 2314.0,367.0 C2299.0,376.7 2286.7,384.9 2268.0,391.0 C2242.8,399.2 2210.7,399.8 2174.0,405.0 C2122.3,412.4 2049.3,421.7 1987.0,430.6 C1924.6,439.5 1866.9,449.1 1800.0,458.6 C1722.7,469.5 1634.5,479.2 1550.0,492.0 C1462.6,505.3 1372.7,522.2 1284.1,537.3"/><polygon fill="#191970" points="1283.3,532.7 1271.0,539.5 1284.9,541.9"/>
<path d="M2528.0,215.5 C2452.0,216.3 2396.6,216.4 2300.0,218.0 C2131.6,220.7 1816.5,227.1 1607.0,232.8 C1433.2,237.5 1267.9,243.4 1130.0,248.5 C1024.3,252.4 940.7,255.8 850.0,260.0 C764.3,264.0 675.6,267.3 600.0,273.0 C537.0,277.7 485.0,284.2 427.0,290.0 C368.3,295.9 306.5,300.8 250.0,308.0 C197.8,314.6 138.4,321.4 100.0,331.0 C75.1,337.2 55.5,342.6 40.0,352.0 C28.0,359.3 17.8,367.9 12.0,378.0 C6.6,387.4 6.1,399.4 5.0,410.0 C3.9,420.1 4.9,428.5 5.0,440.0 C5.1,455.6 2.8,476.9 5.5,495.0 C8.3,513.5 10.6,534.8 22.0,550.0 C34.8,567.0 57.4,578.6 83.0,589.0 C118.7,603.5 169.3,610.5 221.0,617.0 C285.8,625.1 368.9,625.4 442.0,628.0 C513.9,630.6 584.8,631.1 656.2,632.7"/><polygon fill="#191970" points="656.1,637.4 669.5,633.0 656.3,628.0"/>
<path d="M2528.0,222.0 C2452.0,228.8 2377.1,235.3 2300.0,242.4 C2220.5,249.7 2151.9,255.1 2058.0,265.0 C1927.0,278.8 1723.4,301.7 1588.0,320.0 C1484.6,334.0 1382.2,350.4 1315.0,362.0 C1275.4,368.8 1258.1,371.8 1221.0,380.0 C1166.4,392.1 1077.1,411.1 1020.0,431.0 C975.3,446.6 934.1,463.6 904.0,483.0 C881.6,497.4 868.7,514.1 851.0,529.7"/><polygon fill="#191970" points="847.9,526.2 841.0,538.5 854.1,533.2"/>
<path d="M2617.6,226.0 C2600.7,250.7 2583.4,276.5 2567.0,300.0 C2551.9,321.6 2533.0,347.5 2523.0,362.0 C2517.7,369.7 2516.7,372.7 2511.0,380.0 C2500.5,393.5 2479.2,415.1 2462.0,434.0 C2443.0,454.9 2413.9,480.4 2402.0,500.0 C2394.3,512.7 2390.2,525.4 2389.0,535.0 C2388.2,541.4 2389.2,546.3 2390.7,551.6 C2392.3,557.1 2393.7,562.8 2398.6,567.5 C2406.3,574.9 2422.5,580.3 2438.4,585.4 C2460.0,592.3 2488.5,596.7 2517.8,601.3 C2553.4,606.9 2594.1,611.1 2637.0,615.2 C2687.0,619.9 2746.4,624.1 2800.0,627.0 C2852.0,629.8 2902.5,630.7 2953.7,632.5"/><polygon fill="#191970" points="2953.5,637.2 2967.0,633.0 2953.9,627.9"/>
<path d="M2734.5,460.0 C2623.0,462.7 2489.4,464.0 2400.0,468.0 C2340.1,470.7 2303.6,475.0 2250.0,478.0 C2188.1,481.5 2111.9,484.1 2050.0,487.0 C1996.4,489.5 1952.5,492.5 1900.0,494.5 C1842.0,496.7 1782.7,498.4 1717.0,499.0 C1640.4,499.7 1530.9,494.2 1468.0,497.7 C1429.4,499.9 1405.7,503.0 1375.0,508.6 C1344.0,514.3 1313.6,524.0 1282.9,531.8"/><polygon fill="#191970" points="1281.8,527.2 1270.0,535.0 1284.0,536.3"/>
<path d="M2734.5,462.0 C2623.0,465.0 2489.4,466.8 2400.0,471.0 C2340.1,473.8 2303.6,478.0 2250.0,481.0 C2188.1,484.5 2111.9,486.8 2050.0,490.0 C1996.4,492.8 1950.0,494.8 1900.0,499.0 C1850.0,503.2 1797.4,508.4 1750.0,515.0 C1706.9,521.0 1668.1,529.2 1627.1,536.2"/><polygon fill="#191970" points="1626.3,531.6 1614.0,538.5 1627.9,540.8"/>
<path d="M2734.5,465.0 C2623.0,470.7 2489.4,475.3 2400.0,482.0 C2340.0,486.5 2303.6,493.1 2250.0,497.0 C2188.2,501.5 2117.0,499.2 2050.0,506.0 C1981.7,513.0 1912.8,527.9 1844.1,538.9"/><polygon fill="#191970" points="1843.4,534.3 1831.0,541.0 1844.9,543.5"/>
<path d="M2734.5,468.0 C2623.0,476.3 2489.4,485.2 2400.0,493.0 C2340.1,498.2 2306.3,501.9 2250.0,508.0 C2177.2,515.9 2084.8,524.0 2000.0,537.0 C1911.2,550.6 1819.4,574.1 1729.0,589.0 C1639.2,603.8 1549.1,613.8 1459.2,626.2"/><polygon fill="#191970" points="1458.5,621.6 1446.0,628.0 1459.8,630.8"/>
<path d="M2734.5,471.0 C2623.0,480.7 2487.3,489.9 2400.0,500.0 C2343.5,506.5 2316.4,510.3 2261.0,520.0 C2177.8,534.5 2034.2,565.0 1950.0,584.0 C1892.1,597.1 1852.6,607.9 1803.9,619.8"/><polygon fill="#191970" points="1802.8,615.3 1791.0,623.0 1805.0,624.4"/>
<path d="M2740.0,473.7 C2646.0,489.1 2564.7,500.3 2458.0,520.0 C2316.6,546.1 2130.4,587.3 1966.5,621.0"/><polygon fill="#191970" points="1965.6,616.4 1953.5,623.7 1967.5,625.6"/>
</g>
<g font-family="'Liberation Sans', sans-serif" font-size="13.80" fill="black">
<rect x="2731.0" y="6.5" width="169.7" height="69.5" fill="#bfbfbf" stroke="black" stroke-width="1.33"/>
<text transform="translate(2741.7 22.4) scale(0.942 1)">/afs/cern.ch/sw/Gaudi</text>
<text transform="translate(2741.7 37.2) scale(0.942 1)">/releases/GAUDI/GAUDI</text>
<text transform="translate(2741.7 51.9) scale(0.942 1)">_v23r7/GaudiPython/src</text>
<text transform="translate(2815.8 66.7) scale(0.942 1)" text-anchor="middle">/Lib/Helpers.cpp</text>
<rect x="3189.5" y="125.9" width="178.0" height="25.1" fill="white" stroke="black" stroke-width="1.33"/>
<text transform="translate(3278.5 141.6) scale(0.942 1)" text-anchor="middle">GaudiKernel/ISvcLocator.h</text>
<rect x="2528.0" y="200.8" width="194.5" height="25.0" fill="white" stroke="black" stroke-width="1.33"/>
<text transform="translate(2625.2 216.5) scale(0.942 1)" text-anchor="middle">GaudiKernel/IHistogramSvc.h</text>
<rect x="3253.5" y="200.8" width="185.0" height="25.0" fill="white" stroke="red" stroke-width="1.33"/>
<text transform="translate(3346.0 216.5) scale(0.942 1)" text-anchor="middle">GaudiKernel/ISvcManager.h</text>
<rect x="3957.5" y="200.8" width="156.0" height="25.0" fill="white" stroke="black" stroke-width="1.33"/>
<text transform="translate(4035.5 216.5) scale(0.942 1)" text-anchor="middle">GaudiPython/Helpers.h</text>
<rect x="745.0" y="283.4" width="158.0" height="25.0" fill="white" stroke="black" stroke-width="1.33"/>
<text transform="translate(824.0 299.1) scale(0.942 1)" text-anchor="middle">GaudiKernel/Property.h</text>
<rect x="2727.5" y="275.9" width="177.0" height="40.0" fill="white" stroke="black" stroke-width="1.33"/>
<text transform="translate(2738.2 291.8) scale(0.942 1)">GaudiKernel/IDataProvider</text>
<text transform="translate(2816.0 306.6) scale(0.942 1)" text-anchor="middle">Svc.h</text>
<rect x="3367.5" y="283.4" width="182.0" height="25.0" fill="white" stroke="red" stroke-width="1.33"/>
<text transform="translate(3458.5 299.1) scale(0.942 1)" text-anchor="middle">GaudiKernel/IAlgManager.h</text>
<rect x="3674.5" y="283.4" width="156.5" height="25.0" fill="white" stroke="black" stroke-width="1.33"/>
<text transform="translate(3752.8 299.1) scale(0.942 1)" text-anchor="middle">GaudiKernel/IService.h</text>
<rect x="3906.5" y="283.4" width="74.5" height="25.0" fill="white" stroke="#bfbfbf" stroke-width="1.33"/>
<text transform="translate(3943.8 299.1) scale(0.942 1)" text-anchor="middle">Python.h</text>
<rect x="4004.0" y="283.4" width="167.0" height="25.0" fill="white" stroke="black" stroke-width="1.33"/>
<text transform="translate(4087.5 299.1) scale(0.942 1)" text-anchor="middle">GaudiKernel/IAlgorithm.h</text>
<rect x="4195.0" y="283.4" width="155.5" height="25.0" fill="white" stroke="black" stroke-width="1.33"/>
<text transform="translate(4272.8 299.1) scale(0.942 1)" text-anchor="middle">GaudiKernel/IAlgTool.h</text>
<rect x="264.0" y="366.1" width="79.5" height="25.0" fill="white" stroke="black" stroke-width="1.33"/>
<text transform="translate(303.8 381.8) scale(0.942 1)" text-anchor="middle">stdexcept</text>
<rect x="366.5" y="366.1" width="199.5" height="25.0" fill="white" stroke="black" stroke-width="1.33"/>
<text transform="translate(466.2 381.8) scale(0.942 1)" text-anchor="middle">GaudiKernel/PropertyVerifier.h</text>
<rect x="2094.5" y="366.1" width="162.5" height="25.0" fill="white" stroke="black" stroke-width="1.33"/>
<text transform="translate(2175.8 381.8) scale(0.942 1)" text-anchor="middle">GaudiKernel/IProperty.h</text>
<rect x="2331.5" y="366.1" width="160.5" height="25.0" fill="white" stroke="black" stroke-width="1.33"/>
<text transform="translate(2411.8 381.8) scale(0.942 1)" text-anchor="middle">GaudiKernel/IToolSvc.h</text>
<rect x="3138.5" y="366.1" width="155.0" height="25.0" fill="white" stroke="black" stroke-width="1.33"/>
<text transform="translate(3216.0 381.8) scale(0.942 1)" text-anchor="middle">GaudiKernel/SmartIF.h</text>
<rect x="3573.5" y="366.1" width="206.5" height="25.0" fill="white" stroke="black" stroke-width="1.33"/>
<text transform="translate(3676.8 381.8) scale(0.942 1)" text-anchor="middle">GaudiKernel/TypeNameString.h</text>
<rect x="3906.0" y="366.1" width="205.5" height="25.0" fill="white" stroke="black" stroke-width="1.33"/>
<text transform="translate(4008.8 381.8) scale(0.942 1)" text-anchor="middle">GaudiKernel/INamedInterface.h</text>
<rect x="4136.0" y="366.1" width="188.0" height="25.0" fill="white" stroke="red" stroke-width="1.33"/>
<text transform="translate(4230.0 381.8) scale(0.942 1)" text-anchor="middle">GaudiKernel/StateMachine.h</text>
<rect x="144.0" y="448.8" width="165.5" height="24.9" fill="white" stroke="red" stroke-width="1.33"/>
<text transform="translate(226.8 464.4) scale(0.942 1)" text-anchor="middle">GaudiKernel/ToStream.h</text>
<rect x="384.0" y="441.2" width="175.0" height="40.0" fill="white" stroke="black" stroke-width="1.33"/>
<text transform="translate(394.7 457.1) scale(0.942 1)">GaudiKernel/PropertyType</text>
<text transform="translate(471.5 471.9) scale(0.942 1)" text-anchor="middle">Traits.h</text>
<rect x="634.0" y="441.2" width="198.5" height="40.0" fill="white" stroke="black" stroke-width="1.33"/>
<text transform="translate(644.7 457.1) scale(0.942 1)">GaudiKernel/PropertyCallback</text>
<text transform="translate(733.2 471.9) scale(0.942 1)" text-anchor="middle">Functor.h</text>
<rect x="1059.0" y="448.8" width="153.5" height="24.9" fill="white" stroke="black" stroke-width="1.33"/>
<text transform="translate(1135.8 464.4) scale(0.942 1)" text-anchor="middle">GaudiKernel/Parsers.h</text>
<rect x="2008.0" y="448.8" width="175.0" height="24.9" fill="white" stroke="black" stroke-width="1.33"/>
<text transform="translate(2095.5 464.4) scale(0.942 1)" text-anchor="middle">GaudiKernel/DataObject.h</text>
<rect x="2734.5" y="448.8" width="162.0" height="24.9" fill="white" stroke="black" stroke-width="1.33"/>
<text transform="translate(2815.5 464.4) scale(0.942 1)" text-anchor="middle">GaudiKernel/IInterface.h</text>
<rect x="93.5" y="539.1" width="133.0" height="25.0" fill="white" stroke="red" stroke-width="1.33"/>
<text transform="translate(160.0 554.8) scale(0.942 1)" text-anchor="middle">GaudiKernel/Map.h</text>
<rect x="301.5" y="539.1" width="67.0" height="25.0" fill="white" stroke="black" stroke-width="1.33"/>
<text transform="translate(335.0 554.8) scale(0.942 1)" text-anchor="middle">iomanip</text>
<rect x="391.5" y="539.1" width="69.5" height="25.0" fill="white" stroke="black" stroke-width="1.33"/>
<text transform="translate(426.2 554.8) scale(0.942 1)" text-anchor="middle">sstream</text>
<rect x="485.0" y="539.1" width="75.0" height="25.0" fill="white" stroke="black" stroke-width="1.33"/>
<text transform="translate(522.5 554.8) scale(0.942 1)" text-anchor="middle">algorithm</text>
<rect x="786.0" y="539.1" width="72.5" height="25.0" fill="white" stroke="black" stroke-width="1.33"/>
<text transform="translate(822.2 554.8) scale(0.942 1)" text-anchor="middle">iostream</text>
<rect x="882.5" y="539.1" width="40.0" height="25.0" fill="white" stroke="black" stroke-width="1.33"/>
<text transform="translate(902.5 554.8) scale(0.942 1)" text-anchor="middle">set</text>
<rect x="1047.5" y="539.1" width="160.0" height="25.0" fill="white" stroke="red" stroke-width="1.33"/>
<text transform="translate(1127.5 554.8) scale(0.942 1)" text-anchor="middle">GaudiKernel/HistoDef.h</text>
<rect x="1231.0" y="539.1" width="39.0" height="25.0" fill="white" stroke="black" stroke-width="1.33"/>
<text transform="translate(1250.5 554.8) scale(0.942 1)" text-anchor="middle">list</text>
<rect x="1294.0" y="539.1" width="156.5" height="25.0" fill="white" stroke="black" stroke-width="1.33"/>
<text transform="translate(1372.2 554.8) scale(0.942 1)" text-anchor="middle">GaudiKernel/ClassID.h</text>
<rect x="1473.0" y="539.1" width="178.5" height="25.0" fill="white" stroke="red" stroke-width="1.33"/>
<text transform="translate(1562.2 554.8) scale(0.942 1)" text-anchor="middle">GaudiKernel/StatusCode.h</text>
<rect x="1674.5" y="539.1" width="154.5" height="25.0" fill="white" stroke="red" stroke-width="1.33"/>
<text transform="translate(1751.8 554.8) scale(0.942 1)" text-anchor="middle">GaudiKernel/System.h</text>
<rect x="2411.5" y="539.1" width="129.0" height="25.0" fill="white" stroke="#bfbfbf" stroke-width="1.33"/>
<text transform="translate(2476.0 554.8) scale(0.942 1)" text-anchor="middle">boost/mpl/fold.hpp</text>
<rect x="2564.0" y="539.1" width="159.5" height="25.0" fill="white" stroke="#bfbfbf" stroke-width="1.33"/>
<text transform="translate(2643.8 554.8) scale(0.942 1)" text-anchor="middle">boost/mpl/for_each.hpp</text>
<rect x="2747.5" y="531.7" width="136.5" height="40.0" fill="white" stroke="black" stroke-width="1.33"/>
<text transform="translate(2758.2 547.6) scale(0.942 1)">GaudiKernel/extend</text>
<text transform="translate(2815.8 562.4) scale(0.942 1)" text-anchor="middle">_interfaces.h</text>
<rect x="2908.5" y="539.1" width="175.0" height="25.0" fill="white" stroke="black" stroke-width="1.33"/>
<text transform="translate(2996.0 554.8) scale(0.942 1)" text-anchor="middle">GaudiKernel/implements.h</text>
<rect x="3107.5" y="539.1" width="155.0" height="25.0" fill="white" stroke="black" stroke-width="1.33"/>
<text transform="translate(3185.0 554.8) scale(0.942 1)" text-anchor="middle">GaudiKernel/extends.h</text>
<rect x="3287.0" y="539.1" width="127.0" height="25.0" fill="white" stroke="#bfbfbf" stroke-width="1.33"/>
<text transform="translate(3350.5 554.8) scale(0.942 1)" text-anchor="middle">boost/mpl/set.hpp</text>
<rect x="3438.0" y="539.1" width="139.5" height="25.0" fill="white" stroke="#bfbfbf" stroke-width="1.33"/>
<text transform="translate(3507.8 554.8) scale(0.942 1)" text-anchor="middle">boost/mpl/insert.hpp</text>
<rect x="136.5" y="622.1" width="47.0" height="25.0" fill="white" stroke="black" stroke-width="1.33"/>
<text transform="translate(160.0 637.8) scale(0.942 1)" text-anchor="middle">map</text>
<rect x="670.0" y="622.1" width="57.5" height="25.0" fill="white" stroke="black" stroke-width="1.33"/>
<text transform="translate(698.8 637.8) scale(0.942 1)" text-anchor="middle">vector</text>
<rect x="1299.0" y="622.1" width="145.5" height="25.0" fill="white" stroke="black" stroke-width="1.33"/>
<text transform="translate(1371.8 637.8) scale(0.942 1)" text-anchor="middle">GaudiKernel/Kernel.h</text>
<rect x="1718.0" y="622.1" width="69.0" height="25.0" fill="white" stroke="black" stroke-width="1.33"/>
<text transform="translate(1752.5 637.8) scale(0.942 1)" text-anchor="middle">typeinfo</text>
<rect x="1882.0" y="622.1" width="70.0" height="25.0" fill="white" stroke="black" stroke-width="1.33"/>
<text transform="translate(1917.0 637.8) scale(0.942 1)" text-anchor="middle">ostream</text>
<rect x="2967.0" y="622.1" width="55.0" height="25.0" fill="white" stroke="black" stroke-width="1.33"/>
<text transform="translate(2994.5 637.8) scale(0.942 1)" text-anchor="middle">string</text>
</g>
</svg>
</body></html>
